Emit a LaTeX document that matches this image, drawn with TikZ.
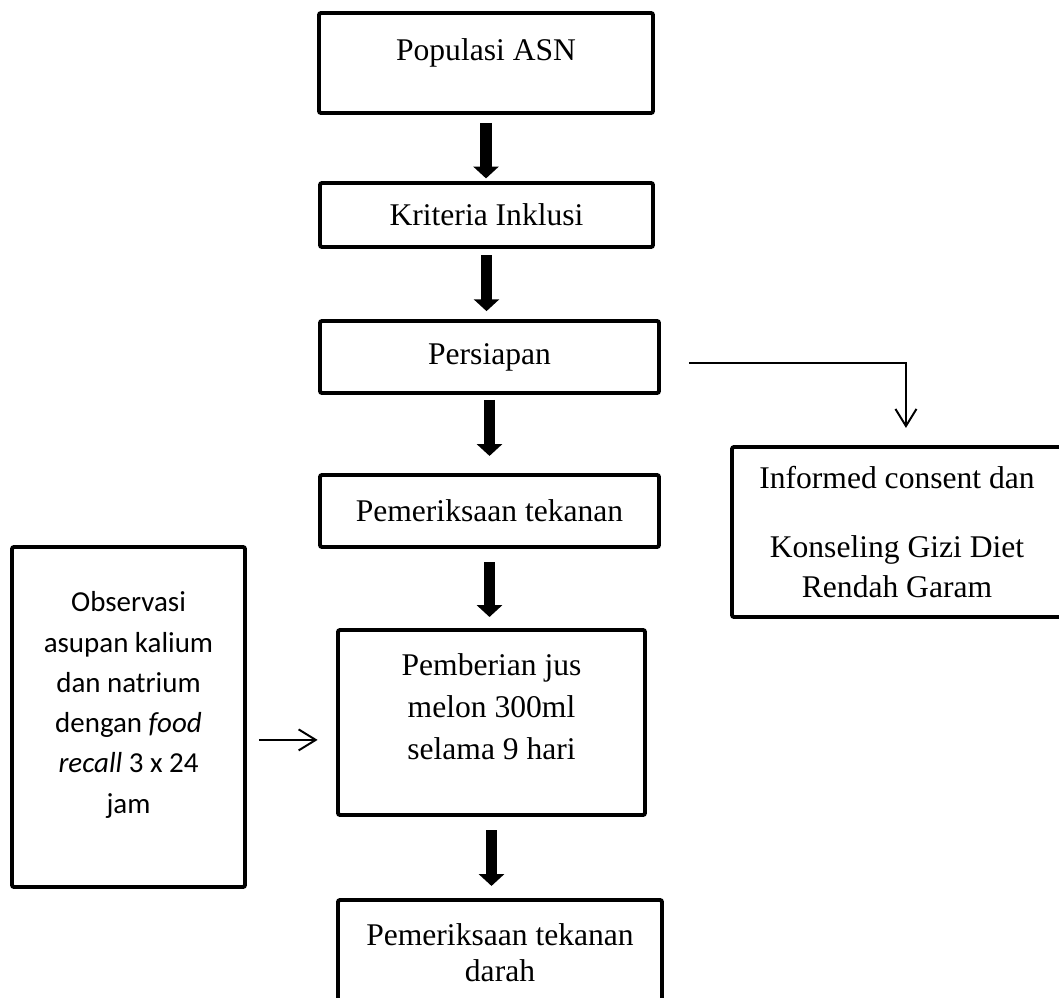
\documentclass[tikz,border=0pt]{standalone}
\usepackage{fontspec}
\setmainfont{Liberation Serif}
\newfontfamily\calibrifont{Carlito}
\usetikzlibrary{arrows.meta}
\newlength\pxu
\setlength\pxu{0.38pt}
\tikzset{
  kotak/.style={draw, line width=1.5pt, rounded corners=0.8pt, align=center,
    inner sep=2pt, font=\fontsize{12}{16}\selectfont},
  panahtebal/.style={line width=4.2pt, -{Triangle[width=9.5pt, length=4.5pt]}},
  panahtipis/.style={line width=0.75pt, -{Straight Barb[width=8pt, length=6.5pt]}}
}

\begin{document}
\begin{tikzpicture}[x=0.38pt, y=-0.38pt]
\useasboundingbox (0,0) rectangle (1059,997);

% alur utama
\node[kotak, minimum width=334\pxu, minimum height=100\pxu, text depth=10pt] (pop) at (486,63) {Populasi ASN};
\node[kotak, minimum width=333\pxu, minimum height=64\pxu] (krit) at (486.5,215) {Kriteria Inklusi};
\node[kotak, minimum width=339\pxu, minimum height=72\pxu] (siap) at (489.5,357) {Persiapan};
\node[kotak, minimum width=339\pxu, minimum height=72\pxu] (periksa) at (489.5,511) {Pemeriksaan tekanan};
\node[kotak, minimum width=307\pxu, minimum height=185\pxu, text depth=12pt] (jus) at (491.5,722.5)
  {Pemberian jus\\ melon 300ml\\ selama 9 hari};
\node[kotak, minimum width=324\pxu, minimum height=105\pxu, font=\fontsize{12}{13.8}\selectfont] (darah) at (500,952.5)
  {Pemeriksaan tekanan\\ darah};

% kotak samping
\node[kotak, minimum width=233\pxu, minimum height=340\pxu, text depth=11pt,
  font=\calibrifont\fontsize{11}{15.3}\selectfont] (obs) at (128.5,717)
  {Observasi\\ asupan kalium\\ dan natrium\\ dengan \textit{food}\\ \textit{recall} 3 x 24\\ jam};
\node[kotak, minimum width=330\pxu, minimum height=170\pxu, font=\fontsize{12}{15.2}\selectfont] (inf) at (897,532)
  {Informed consent dan\\[11pt] Konseling Gizi Diet\\ Rendah Garam};

% panah tebal
\foreach \a/\b/\s/\e in {pop/krit/3pt/1pt, krit/siap/2.3pt/3pt, siap/periksa/1.9pt/6.5pt,
    periksa/jus/5pt/4.2pt, jus/darah/5pt/4.6pt}
  \draw[panahtebal, shorten <=\s, shorten >=\e] (\a.south) -- (\a.south |- \b.north);

% panah tipis
\coordinate (obskanan) at ([yshift=-8.7pt]obs.east);
\draw[panahtipis, shorten <=4.5pt, shorten >=7pt] (obskanan) -- (obskanan -| jus.west);
\draw[panahtipis, shorten <=10.6pt, shorten >=6.5pt] ([yshift=-2.3pt]siap.east) -| ([xshift=3.4pt]inf.north);
\end{tikzpicture}
\end{document}
